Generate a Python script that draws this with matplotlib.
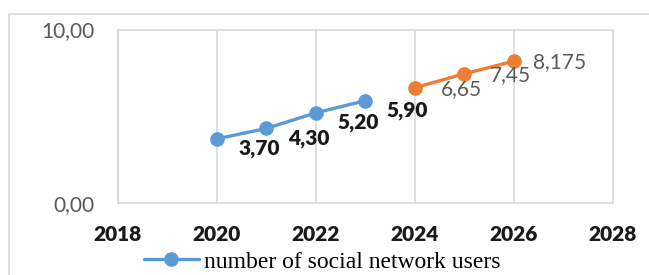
import matplotlib.pyplot as plt
from matplotlib.patches import Rectangle

# actual values and forecast
years_actual = [2020, 2021, 2022, 2023]
users_actual = [3.70, 4.30, 5.20, 5.90]
years_forecast = [2024, 2025, 2026]
users_forecast = [6.65, 7.45, 8.175]
labels_actual = ['3,70', '4,30', '5,20', '5,90']
labels_forecast = ['6,65', '7,45', '8,175']
x_ticks = [2018, 2020, 2022, 2024, 2026, 2028]
y_ticks = [0, 10]
y_tick_labels = ['0,00', '10,00']
series_name = 'number of social network users'

blue = '#5B9BD5'
orange = '#ED7D31'
grey_text = '#595959'
grid_col = '#D9D9D9'

plt.rcParams['font.family'] = ['Lato', 'DejaVu Sans']

fig = plt.figure(figsize=(6.49, 2.75), dpi=100)
ax = fig.add_axes([0.1818, 0.2618, 0.7627, 0.6309])

# outer chart border (runs off the right and bottom edges)
fig.patches.append(Rectangle((0.0139, -0.1), 1.2, 1.049, transform=fig.transFigure,
                             fill=False, edgecolor=grid_col, linewidth=1.2))

ax.plot(years_actual, users_actual, color=blue, linewidth=2.4, marker='o',
        markersize=9.5, label=series_name, solid_capstyle='round')
ax.plot(years_forecast, users_forecast, color=orange, linewidth=2.4, marker='o',
        markersize=9.5, solid_capstyle='round')

for x, y, s in zip(years_actual, users_actual, labels_actual):
    ax.annotate(s, (x, y), xytext=(42, -10), textcoords='offset pixels',
                ha='center', va='center', fontsize=15, fontweight='heavy', color='#1a1a1a')
for x, y, s in zip(years_forecast, users_forecast, labels_forecast):
    ax.annotate(s, (x, y), xytext=(46, -1), textcoords='offset pixels',
                ha='center', va='center', fontsize=15, color=grey_text)

ax.set_xlim(2018, 2028)
ax.set_ylim(0, 10)
ax.set_xticks(x_ticks)
ax.set_xticklabels([str(t) for t in x_ticks], fontsize=15, fontweight='heavy', color='#1a1a1a')
ax.set_yticks(y_ticks)
ax.set_yticklabels(y_tick_labels, fontsize=15, color=grey_text)
ax.tick_params(axis='both', length=0)
ax.tick_params(axis='x', pad=16)
ax.tick_params(axis='y', pad=17)

ax.grid(axis='x', color=grid_col, linewidth=1.2)
ax.set_axisbelow(True)
for sp in ax.spines.values():
    sp.set_color(grid_col)
    sp.set_linewidth(1.2)

fig.legend(loc='center', bbox_to_anchor=(0.497, 0.048), frameon=False,
           prop={'family': 'Liberation Serif', 'size': 17}, handlelength=2.3,
           handletextpad=0.25, borderpad=0)

fig.savefig('out.png', dpi=100)
